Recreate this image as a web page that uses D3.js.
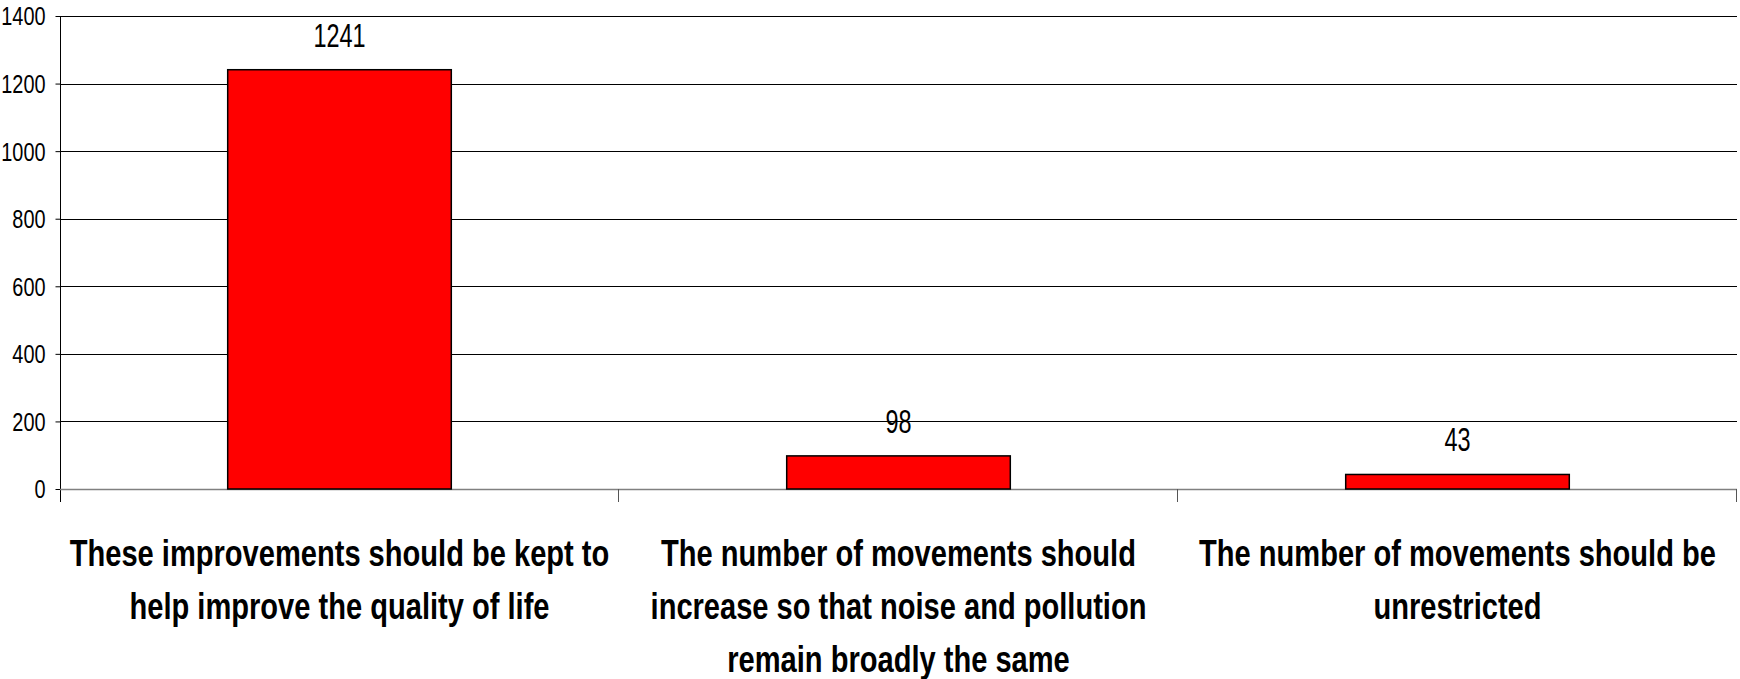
<!DOCTYPE html>
<html><head><meta charset="utf-8">
<script src="https://cdn.jsdelivr.net/npm/d3@7"></script>
<style>body{margin:0;background:#fff}svg{display:block}</style></head>
<body>
<svg id="c" width="1740" height="679"></svg>
<script>
const categories = ["cat1", "cat2", "cat3"];
const categoryLines = [
  ["These improvements should be kept to", "help improve the quality of life"],
  ["The number of movements should", "increase so that noise and pollution", "remain broadly the same"],
  ["The number of movements should be", "unrestricted"]
];
const values = [1241, 98, 43];
const yTicks = [0, 200, 400, 600, 800, 1000, 1200, 1400];

const FONT = "'Liberation Sans Narrow','Arial Narrow','Liberation Sans',Arial,sans-serif";
const svg = d3.select("#c");
const plotL = 60, plotR = 1737, plotT = 16, plotB = 489;

const x = d3.scaleBand().domain(categories).range([plotL, plotR]).paddingInner(0.6).paddingOuter(0.3);
const y = d3.scaleLinear().domain([0, 1400]).range([plotB, plotT]);

// gridlines
svg.append("g").selectAll("line").data(yTicks.filter(d => d > 0)).join("line")
  .attr("x1", plotL).attr("x2", plotR)
  .attr("y1", d => Math.round(y(d)) + 0.5).attr("y2", d => Math.round(y(d)) + 0.5)
  .attr("stroke", "#000").attr("stroke-width", 1);

// y axis
const tickSX = 0.78;
const ya = svg.append("g").attr("transform", `translate(${plotL + 0.5},0)`)
  .call(d3.axisLeft(y).tickValues(yTicks).tickSize(5).tickPadding(10).tickFormat(d3.format("d")));
ya.select(".domain").remove();
ya.selectAll(".tick line").attr("stroke", "#000");
ya.selectAll(".tick text").attr("fill", "#000").style("font-family", FONT).style("font-size", "25.5px")
  .attr("dy", "0.35em")
  .attr("transform", `scale(${tickSX},1)`).attr("x", -15 / tickSX);
svg.append("line").attr("x1", plotL + 0.5).attr("x2", plotL + 0.5).attr("y1", plotT).attr("y2", plotB + 13)
  .attr("stroke", "#000").attr("stroke-width", 1);

// x axis baseline and separators
const bounds = d3.range(categories.length + 1).map(i => plotL + i * x.step());
svg.append("line").attr("x1", plotL).attr("x2", plotR).attr("y1", plotB + 0.5).attr("y2", plotB + 0.5)
  .attr("stroke", "#808080").attr("stroke-width", 1.5);
svg.append("g").selectAll("line").data(bounds.slice(1)).join("line")
  .attr("x1", d => Math.round(d) - 0.5).attr("x2", d => Math.round(d) - 0.5)
  .attr("y1", plotB).attr("y2", plotB + 13).attr("stroke", "#555").attr("stroke-width", 1);

// bars
svg.append("g").selectAll("rect").data(values).join("rect")
  .attr("x", (d, i) => x(categories[i]))
  .attr("y", d => y(d))
  .attr("width", x.bandwidth())
  .attr("height", d => plotB - y(d))
  .attr("fill", "#ff0000").attr("stroke", "#000").attr("stroke-width", 1.5);

// value labels
svg.append("g").selectAll("text").data(values).join("text")
  .attr("transform", (d, i) => `translate(${x(categories[i]) + x.bandwidth() / 2},${y(d) - 23}) scale(0.69,1)`)
  .attr("text-anchor", "middle").style("font-family", FONT).style("font-size", "34px").attr("fill", "#000")
  .text(d => d);

// category labels
const cl = svg.append("g");
categoryLines.forEach((lines, i) => {
  const cx = x(categories[i]) + x.bandwidth() / 2;
  lines.forEach((ln, j) => {
    cl.append("text")
      .attr("transform", `translate(${cx},${566 + j * 53}) scale(0.786,1)`)
      .attr("text-anchor", "middle").style("font-family", FONT).style("font-size", "37px")
      .style("font-weight", "bold").attr("fill", "#000").text(ln);
  });
});
</script>
</body></html>
